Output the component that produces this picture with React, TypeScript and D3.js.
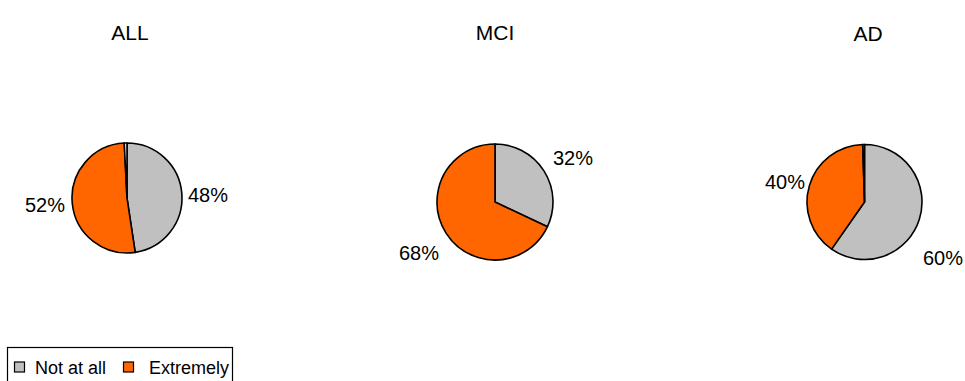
import React from "react";
import * as d3 from "d3";

const groups = ["ALL", "MCI", "AD"];
const notAtAll = [48, 32, 60];
const extremely = [52, 68, 40];
const missing = [0.8, 0, 0.5];
const pctLabels = [["48%", "52%"], ["32%", "68%"], ["60%", "40%"]];
const legendNames = ["Not at all", "Extremely"];
const colors = ["#C0C0C0", "#FF6600", "#FFFFFF"];

const centers = [
  { cx: 127, cy: 198, r: 55, title: [130, 40] },
  { cx: 495, cy: 202, r: 58, title: [495, 40] },
  { cx: 864.5, cy: 202, r: 57.5, title: [868, 41] },
];
const labelPos = [
  [[188, 202, "start"], [65, 212, "end"]],
  [[553, 165, "start"], [439, 260, "end"]],
  [[923, 265, "start"], [805, 189, "end"]],
];

export default function App() {
  const pie = d3.pie<number>().sort(null).value((d) => d);
  return (
    <svg width={965} height={381} style={{ position: "absolute", left: 0, top: 0 }}
      fontFamily="Liberation Sans, Arial, sans-serif">
      <rect width={965} height={381} fill="#fff" />
      {groups.map((g, i) => {
        const c = centers[i];
        const arcs = pie([notAtAll[i], extremely[i], missing[i]]);
        const arc = d3.arc<d3.PieArcDatum<number>>().innerRadius(0).outerRadius(c.r);
        return (
          <g key={g}>
            <text x={c.title[0]} y={c.title[1]} textAnchor="middle" fontSize={21}>{g}</text>
            <g transform={`translate(${c.cx},${c.cy})`}>
              {arcs.map((a, j) =>
                a.value > 0 ? (
                  <path key={j} d={arc(a) || ""} fill={colors[j]} stroke="#000" strokeWidth={1.6} strokeLinejoin="round" />
                ) : null
              )}
            </g>
            {labelPos[i].map((p, j) => (
              <text key={j} x={p[0] as number} y={p[1] as number} textAnchor={p[2] as any} fontSize={20}>
                {pctLabels[i][j]}
              </text>
            ))}
          </g>
        );
      })}
      <g>
        <rect x={7.5} y={347.5} width={225} height={40} fill="#fff" stroke="#000" strokeWidth={1.2} />
        {legendNames.map((n, j) => {
          const x = j === 0 ? 14 : 123;
          return (
            <g key={n}>
              <rect x={x + 0.5} y={362} width={10} height={10} fill={colors[j]} stroke="#000" strokeWidth={1.2} />
              <text x={x + (j === 0 ? 21 : 26)} y={374} fontSize={18}>{n}</text>
            </g>
          );
        })}
      </g>
    </svg>
  );
}
